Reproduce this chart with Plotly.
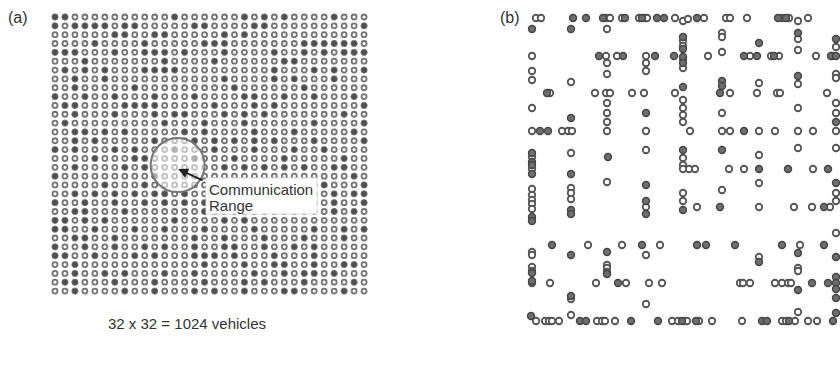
import plotly.graph_objects as go

# ---------------- Panel (a): 32 x 32 vehicle grid (1 = dark vehicle, 0 = hollow) ----------------
grid_rows = [
    "11000000000010000001010100001000",
    "10111101100000110000110000000001",
    "00000011001100000101000000000000",
    "00001000010000011100000001111110",
    "11100010011101000100001001010111",
    "00010000000100001000000110000000",
    "01010100011110000000001000101001",
    "00100100000000000100001010001000",
    "00100000100000000010000001000000",
    "10010010001000100001100100100010",
    "01100001111000001000101000000001",
    "00100010001011000101010000000100",
    "01000000000100010001000000100001",
    "00110101000001010000100010000010",
    "00101000001000101010101000100001",
    "10100010100010001000100010010000",
    "00001000110000100010000100000100",
    "00100001010000000101010101001100",
    "10000000001000000000000000000010",
    "00000100010000000000000000010001",
    "00101010101101000000000000001011",
    "10010010010101010000000000001001",
    "00110001000000011001000000001010",
    "11010100000010000101000000000000",
    "11001000100100010000100000100101",
    "00110010000000100100010001000100",
    "10010010010100100110010010100000",
    "11001000101000111010001000100000",
    "00100000000000010001001100100110",
    "00100101000100100000100101101000",
    "01100010001000010001010001000010",
    "00100001001000101001000110000100",
]
range_center = (12.3, 16.75)      # grid column, grid row of communication-range centre
arrow_tip = (12.35, 17.2)
caption_a = "32 x 32 = 1024 vehicles"
range_label = ["Communication", "Range"]

# ---------------- Panel (b): vehicles on a 9 x 9 road network (x, y, filled) ----------------
b_x = [4, 9, 41, 54, 71, 74, 78, 90, 93, 107, 110, 113, 115, 125, 132, 143, 151, 156, 165, 172, 194, 198, 215, 246, 250, 254, 257, 266, 276,
       0, 0, 0, 0, 0, 0, 0, 0, 0, 0, 0, 0, 0, 0, 0, 0, 0, 0, 0, 0, 0, 0, 0, 0, 0, 0, -1,
       39, 39, 39, 39, 39, 39, 39, 39, 39, 39, 39, 39, 39, 39,
       75, 75, 75, 75, 75, 75, 75, 76, 75, 75, 75, 75, 75, 75,
       114, 114, 114, 114, 114, 114, 114, 114, 114, 114, 114, 114,
       67, 74, 85, 91, 123, 142,
       15, 18, 63, 74, 78, 100, 112, 143,
       176, 212, 218, 225, 239, 242, 247, 284, 299,
       151, 151, 151, 151, 151, 151, 151, 151, 151, 151, 151, 151, 151,
       190, 190, 190, 190, 190, 190, 190,
       227, 227, 227, 227,
       266, 266, 266, 266, 266, 266, 266, 266,
       304, 304, 304, 300, 304, 304, 304, 304, 304, 304, 304, 304, 304, 304,
       188, 198, 225, 245, 248, 295,
       8, 16, 30, 36, 40, 158, 198, 212, 243, 281,
       157, 163, 197, 212, 256, 281, 296,
       165, 188, 262, 280, 292, 298,
       20, 56, 90, 110, 128, 165, 174, 203, 250, 268, 292,
       151, 151, 151, 151, 151, 151, 151,
       190, 190, 227, 227, 227, 227, 227,
       266, 266, 266, 266, 266,
       304, 304, 304, 304, 304, 304, 304,
       208, 211, 218, 243, 250, 256, 259, 280, 296,
       18, 64, 86, 94, 117, 130,
       4, 13, 17, 20, 27, 48, 54, 65, 70, 73, 83, 99, 126, 140, 146,
       150, 153, 155, 164, 167, 180, 210, 230, 235, 250, 254, 257, 263, 276, 285, 301]
b_y = [0, 0, 0, 0, 0, 0, 0, 0, 0, 0, 0, 0, 0, 0, 0, 0, 3, 1, 0, 0, 0, 0, 0, 0, 0, 0, 0, 3, 0,
       11, 38, 53, 62, 90, 113, 135, 139, 144, 147, 151, 156, 171, 177, 182, 186, 191, 199, 203, 234, 237, 249, 253, 255, 263, 265, 298,
       11, 64, 100, 135, 156, 170, 175, 181, 192, 196, 237, 278, 281, 297,
       11, 45, 56, 85, 95, 104, 113, 139, 164, 234, 247, 250, 254, 256,
       38, 45, 53, 95, 113, 132, 167, 183, 189, 196, 237, 286,
       38, 38, 38, 38, 38, 38,
       75, 75, 75, 75, 75, 75, 75, 75,
       38, 38, 38, 38, 38, 38, 38, 38, 38,
       19, 23, 28, 31, 39, 41, 45, 50, 69, 82, 90, 97, 104,
       15, 19, 34, 63, 68, 95, 113,
       25, 65, 113, 137,
       15, 21, 32, 58, 66, 90, 113, 130,
       21, 29, 38, 38, 56, 60, 85, 95, 104, 113, 130, 165, 175, 183,
       75, 75, 75, 75, 75, 75,
       113, 113, 113, 113, 113, 113, 113, 113, 113, 113,
       151, 151, 151, 151, 151, 151, 151,
       189, 189, 189, 189, 189, 189,
       227, 227, 227, 227, 227, 227, 227, 227, 227, 227, 227,
       132, 140, 147, 175, 183, 192, 151,
       172, 132, 165, 151, 189, 239, 244,
       250, 253, 235, 272, 294,
       215, 239, 259, 265, 271, 280, 295,
       265, 265, 265, 265, 265, 265, 265, 265, 265,
       265, 265, 265, 265, 265, 265,
       303, 303, 303, 303, 303, 303, 303, 303, 303, 303, 303, 303, 303, 303, 303,
       303, 303, 303, 303, 303, 303, 303, 303, 303, 303, 303, 303, 303, 303, 303, 303]
b_filled = [0, 0, 1, 1, 1, 0, 0, 0, 1, 0, 1, 0, 0, 1, 1, 0, 0, 0, 1, 0, 0, 0, 0, 1, 0, 1, 0, 0, 0,
            1, 0, 0, 0, 0, 0, 1, 0, 1, 1, 0, 1, 0, 0, 0, 0, 0, 1, 1, 0, 0, 0, 0, 1, 1, 0, 1,
            1, 0, 1, 0, 1, 0, 0, 0, 1, 1, 1, 1, 0, 0,
            0, 0, 0, 0, 0, 0, 0, 1, 0, 1, 0, 0, 0, 1,
            0, 0, 0, 1, 0, 0, 1, 1, 0, 1, 0, 0,
            1, 0, 0, 1, 1, 1,
            1, 0, 0, 0, 0, 0, 0, 0,
            0, 1, 0, 1, 0, 1, 0, 0, 1,
            1, 0, 0, 1, 1, 0, 1, 0, 1, 0, 0, 0, 0,
            0, 0, 0, 1, 1, 0, 0,
            1, 0, 0, 0,
            1, 0, 0, 1, 0, 0, 0, 0,
            1, 0, 1, 0, 0, 0, 0, 0, 1, 0, 0, 1, 0, 0,
            1, 0, 0, 0, 0, 0,
            1, 1, 0, 0, 0, 0, 0, 1, 0, 0,
            0, 0, 0, 0, 1, 0, 1,
            0, 1, 0, 0, 1, 0,
            1, 0, 0, 1, 0, 1, 1, 1, 1, 0, 1,
            1, 0, 0, 0, 0, 1, 0,
            0, 1, 0, 1, 0, 0, 1,
            0, 0, 1, 1, 0,
            0, 1, 1, 1, 1, 1, 1,
            0, 0, 0, 0, 0, 0, 0, 1, 1,
            0, 0, 1, 0, 0, 0,
            0, 0, 0, 0, 0, 1, 1, 0, 0, 0, 0, 1, 1, 0, 0,
            1, 0, 0, 1, 0, 0, 0, 1, 1, 0, 0, 1, 0, 0, 0, 1]

# ---------------- build figure ----------------
fig = go.Figure()

ax_f, ay_f, ax_h, ay_h = [], [], [], []
for r, row in enumerate(grid_rows):
    for c, ch in enumerate(row):
        if ch == "1":
            ax_f.append(c); ay_f.append(r)
        else:
            ax_h.append(c); ay_h.append(r)

fig.add_trace(go.Scatter(x=ax_h, y=ay_h, mode="markers", xaxis="x", yaxis="y", cliponaxis=False,
                         marker=dict(size=5, color="#fafafa", line=dict(color="#747474", width=1.8)),
                         hoverinfo="skip"))
fig.add_trace(go.Scatter(x=ax_f, y=ay_f, mode="markers", xaxis="x", yaxis="y", cliponaxis=False,
                         marker=dict(size=6.3, color="#505050", line=dict(color="#767676", width=0.8)),
                         hoverinfo="skip"))

bx_f = [x for x, f in zip(b_x, b_filled) if f]
by_f = [y for y, f in zip(b_y, b_filled) if f]
bx_h = [x for x, f in zip(b_x, b_filled) if not f]
by_h = [y for y, f in zip(b_y, b_filled) if not f]
fig.add_trace(go.Scatter(x=bx_h, y=by_h, mode="markers", xaxis="x2", yaxis="y2", cliponaxis=False,
                         marker=dict(size=6.5, color="white", line=dict(color="#555555", width=1.8)),
                         hoverinfo="skip"))
fig.add_trace(go.Scatter(x=bx_f, y=by_f, mode="markers", xaxis="x2", yaxis="y2", cliponaxis=False,
                         marker=dict(size=7, color="#6e6e6e", line=dict(color="#444444", width=1.4)),
                         hoverinfo="skip"))

W, H = 840, 365
fig.update_layout(
    width=W, height=H, margin=dict(l=0, r=0, t=0, b=0),
    paper_bgcolor="white", plot_bgcolor="white", showlegend=False,
    font=dict(family="Liberation Sans, Arial, sans-serif", color="#222222"),
    xaxis=dict(domain=[45.03 / W, 374.04 / W], range=[-1, 32], visible=False),
    yaxis=dict(domain=[(H - 299.9) / H, (H - 8.16) / H], range=[32, -1], visible=False),
    xaxis2=dict(domain=[520 / W, 1.0], range=[-12, 308], visible=False, anchor="y2"),
    yaxis2=dict(domain=[(H - 333) / H, (H - 6) / H], range=[315, -12], visible=False, anchor="x2"),
)

# communication range circle
fig.add_shape(type="circle", xref="x", yref="y", layer="above",
              xsizemode="pixel", ysizemode="pixel",
              xanchor=range_center[0], yanchor=range_center[1],
              x0=-27, x1=27, y0=-27, y1=27,
              fillcolor="rgba(255,255,255,0.55)", line=dict(color="#777777", width=2))
# label box
fig.add_shape(type="rect", xref="paper", yref="paper", layer="above",
              x0=206 / W, x1=317 / W, y0=(H - 214) / H, y1=(H - 178) / H,
              fillcolor="white", line=dict(color="#dddddd", width=1))

fig.add_annotation(x=arrow_tip[0], y=arrow_tip[1], xref="x", yref="y", ax=26, ay=12,
                   showarrow=True, arrowhead=2, arrowsize=1, arrowwidth=2, arrowcolor="#222222", text="")
fig.add_annotation(x=207 / W, y=(H - 189) / H, xref="paper", yref="paper", xanchor="left", yanchor="middle",
                   text=range_label[0], showarrow=False, font=dict(size=15, color="#333333"))
fig.add_annotation(x=207 / W, y=(H - 205) / H, xref="paper", yref="paper", xanchor="left", yanchor="middle",
                   text=range_label[1], showarrow=False, font=dict(size=15, color="#333333"))

fig.add_annotation(x=187 / W, y=(H - 323) / H, xref="paper", yref="paper", xanchor="center", yanchor="middle",
                   text=caption_a, showarrow=False, font=dict(size=15, color="#333333"))
fig.add_annotation(x=6 / W, y=(H - 17) / H, xref="paper", yref="paper", xanchor="left", yanchor="middle",
                   text="(a)", showarrow=False, font=dict(size=16, color="#333333"))
fig.add_annotation(x=498 / W, y=(H - 17) / H, xref="paper", yref="paper", xanchor="left", yanchor="middle",
                   text="(b)", showarrow=False, font=dict(size=16, color="#333333"))

fig.write_html("out.html", config={"displayModeBar": False, "staticPlot": True},
               post_script="document.body.style.margin='0';document.body.style.overflow='hidden';")
